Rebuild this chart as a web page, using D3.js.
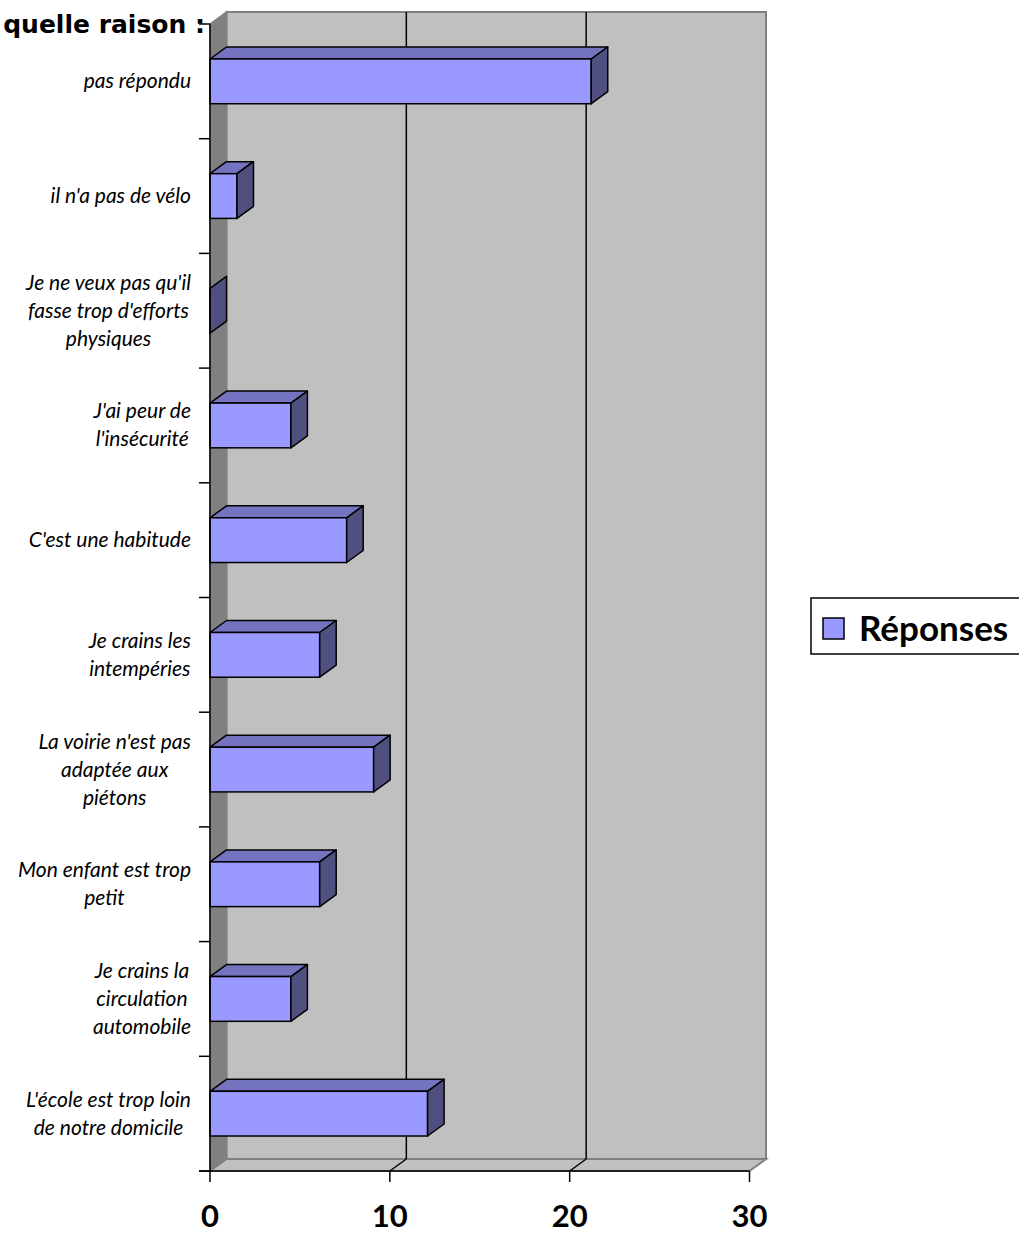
<!DOCTYPE html>
<html><head><meta charset="utf-8">
<script src="https://cdn.jsdelivr.net/npm/d3@7"></script>
<style>body{margin:0;background:#fff;overflow:hidden}</style>
</head><body>
<svg id="c" width="1019" height="1234"></svg>
<script>
const categories = [
  "pas répondu",
  "il n'a pas de vélo",
  "Je ne veux pas qu'il|fasse trop d'efforts|physiques",
  "J'ai peur de|l'insécurité",
  "C'est une habitude",
  "Je crains les|intempéries",
  "La voirie n'est pas|adaptée aux|piétons",
  "Mon enfant est trop|petit",
  "Je crains la|circulation|automobile",
  "L'école est trop loin|de notre domicile"
];
const values = [21.2, 1.5, 0, 4.5, 7.6, 6.1, 9.1, 6.1, 4.5, 12.1];
const xTicks = [0, 10, 20, 30];
const seriesName = "Réponses";
const titleText = "quelle raison :";

const svg = d3.select("#c");
const X0 = 210, X1 = 749.5, YT = 24, YB = 1171;
const DX = 16.5, DY = -12;
const x = d3.scaleLinear().domain([0, 30]).range([X0, X1]);
const y = d3.scaleBand().domain(categories).range([YT, YB]).paddingInner(0.61).paddingOuter(0.305);

const wallStroke = "#808080";
// back wall
svg.append("polygon")
  .attr("points", [[X0+DX, YT+DY], [X1+DX, YT+DY], [X1+DX, YB+DY], [X0+DX, YB+DY]].join(" "))
  .attr("fill", "#c0c0c0").attr("stroke", wallStroke).attr("stroke-width", 2);
// left wall
svg.append("polygon")
  .attr("points", [[X0, YT], [X0+DX, YT+DY], [X0+DX, YB+DY], [X0, YB]].join(" "))
  .attr("fill", "#808080").attr("stroke", wallStroke).attr("stroke-width", 1.5);
// floor
svg.append("polygon")
  .attr("points", [[X0, YB], [X0+DX, YB+DY], [X1+DX, YB+DY], [X1, YB]].join(" "))
  .attr("fill", "#c0c0c0").attr("stroke", wallStroke).attr("stroke-width", 2);

// gridlines
const gridVals = xTicks.filter(v => v > 0 && v < 30);
svg.selectAll(".gb").data(gridVals).join("line")
  .attr("x1", d => x(d) + DX).attr("x2", d => x(d) + DX)
  .attr("y1", YT + DY).attr("y2", YB + DY)
  .attr("stroke", "#000").attr("stroke-width", 1.5);
svg.selectAll(".gf").data(gridVals).join("line")
  .attr("x1", d => x(d)).attr("y1", YB)
  .attr("x2", d => x(d) + DX).attr("y2", YB + DY)
  .attr("stroke", "#000").attr("stroke-width", 1.5);

// bars
const bars = svg.append("g").selectAll("g").data(categories.map((c, i) => ({c, v: values[i]}))).join("g");
bars.each(function(d) {
  const g = d3.select(this);
  const xa = x(0), xb = x(d.v), y0 = y(d.c), h = y.bandwidth();
  if (d.v > 0) {
    g.append("polygon")
      .attr("points", [[xa, y0], [xa+DX, y0+DY], [xb+DX, y0+DY], [xb, y0]].join(" "))
      .attr("fill", "#7373bf").attr("stroke", "#000").attr("stroke-width", 1.5).attr("stroke-linejoin", "round");
    g.append("rect").attr("x", xa).attr("y", y0).attr("width", xb - xa).attr("height", h)
      .attr("fill", "#9999ff").attr("stroke", "#000").attr("stroke-width", 1.5);
  }
  g.append("polygon")
    .attr("points", [[xb, y0], [xb+DX, y0+DY], [xb+DX, y0+h+DY], [xb, y0+h]].join(" "))
    .attr("fill", "#4f4f80").attr("stroke", "#000").attr("stroke-width", 1.5).attr("stroke-linejoin", "round");
});

// axes lines
svg.append("line").attr("x1", X0).attr("x2", X0).attr("y1", YT).attr("y2", YB)
  .attr("stroke", "#000").attr("stroke-width", 1.5);
svg.append("line").attr("x1", X0 - 11).attr("x2", X1).attr("y1", YB).attr("y2", YB)
  .attr("stroke", "#000").attr("stroke-width", 1.5);
// category ticks (boundaries)
const bounds = categories.map(c => y(c) - y.step() * y.paddingInner() / 2).concat([YB]);
svg.selectAll(".ct").data(bounds).join("line")
  .attr("x1", X0 - 11).attr("x2", X0).attr("y1", d => d).attr("y2", d => d)
  .attr("stroke", "#000").attr("stroke-width", 1.5);
// value ticks
svg.selectAll(".vt").data(xTicks).join("line")
  .attr("x1", d => x(d)).attr("x2", d => x(d)).attr("y1", YB).attr("y2", YB + 11)
  .attr("stroke", "#000").attr("stroke-width", 1.5);
svg.selectAll(".vl").data(xTicks).join("text")
  .attr("x", d => x(d)).attr("y", 1227).attr("text-anchor", "middle")
  .attr("font-family", "Lato, 'Open Sans', sans-serif").attr("font-weight", "bold").attr("font-size", 31)
  .attr("fill", "#000").text(d => d);

// category labels
const LH = 28, RIGHT = 191;
categories.forEach(c => {
  const lines = c.split("|");
  const g = svg.append("g");
  const cy = y(c) + y.bandwidth() / 2;
  const ts = lines.map((l, i) => g.append("text")
    .attr("font-family", "Lato, 'Open Sans', sans-serif").attr("font-style", "italic").attr("font-size", 21)
    .attr("fill", "#000")
    .attr("y", cy + (i - (lines.length - 1) / 2) * LH + 7)
    .attr("text-anchor", "middle").text(l));
  const maxW = d3.max(ts, t => t.node().getComputedTextLength());
  ts.forEach(t => t.attr("x", RIGHT - maxW / 2));
});

// title
svg.append("text").attr("x", 205).attr("y", 33).attr("text-anchor", "end")
  .attr("font-family", "'DejaVu Sans', sans-serif").attr("font-weight", "bold").attr("font-size", 25)
  .attr("fill", "#000").text(titleText);

// legend
const lg = svg.append("g");
lg.append("rect").attr("x", 811).attr("y", 598).attr("width", 230).attr("height", 56)
  .attr("fill", "#fff").attr("stroke", "#000").attr("stroke-width", 1.5);
lg.append("rect").attr("x", 823).attr("y", 618).attr("width", 21).attr("height", 21)
  .attr("fill", "#9999ff").attr("stroke", "#000").attr("stroke-width", 1.5);
lg.append("text").attr("x", 859).attr("y", 641)
  .attr("font-family", "Lato, 'Open Sans', sans-serif").attr("font-weight", "bold").attr("font-size", 35)
  .attr("fill", "#000").text(seriesName);
</script>
</body></html>
